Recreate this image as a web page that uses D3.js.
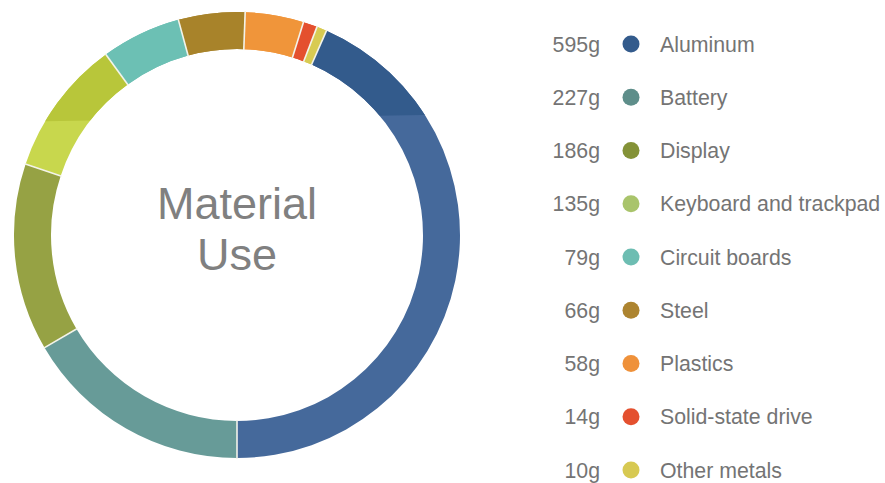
<!DOCTYPE html>
<html><head><meta charset="utf-8">
<script src="https://cdn.jsdelivr.net/npm/d3@7/dist/d3.min.js"></script>
<style>body{margin:0;background:#fff}svg{display:block}</style>
</head><body>
<script>
const categories = ["Aluminum","Battery","Display","Keyboard and trackpad","Circuit boards","Steel","Plastics","Solid-state drive","Other metals"];
const values = [595,227,186,135,79,66,58,14,10];
const valueLabels = ["595g","227g","186g","135g","79g","66g","58g","14g","10g"];
const legendColors = ["#335b8c","#5e8e8a","#849237","#a9c46b","#6dbdb2","#ad8430","#ef913a","#e4502f","#d7c952"];
const ringColorsLower = ["#45699b","#679b98","#96a244","#c8d74d","#6cc0b4","#a8832a","#f0953a","#e4502e","#d8cb52"];
const ringColorsUpper = ["#335b8c","#679b98","#96a244","#b8c63a","#6cc0b4","#a8832a","#f0953a","#e4502e","#d8cb52"];
const title = ["Material","Use"];

const W=885,H=483;
const svg=d3.select("body").append("svg").attr("width",W).attr("height",H);
const cx=237, cy=235, rO=223, rI=186;
const total=d3.sum(values);
const startAngle = Math.PI - values[0]/total*2*Math.PI;
const pie=d3.pie().sort(null).value(d=>d).startAngle(startAngle).endAngle(startAngle+2*Math.PI);
const arcs=pie(values);
const arc=d3.arc().innerRadius(rI).outerRadius(rO);

const defs=svg.append("defs");
defs.append("clipPath").attr("id","upper").append("polygon")
  .attr("points",`0,0 ${W},0 ${W},114 485,114 0,122`);

const g=svg.append("g").attr("transform",`translate(${cx},${cy})`);
g.selectAll("path.lower").data(arcs).join("path").attr("class","lower")
  .attr("d",arc).attr("fill",(d,i)=>ringColorsLower[i]);
const gu=svg.append("g").attr("clip-path","url(#upper)")
  .append("g").attr("transform",`translate(${cx},${cy})`);
gu.selectAll("path").data(arcs).join("path")
  .attr("d",arc).attr("fill",(d,i)=>ringColorsUpper[i]);
// separators
const sep=svg.append("g").attr("transform",`translate(${cx},${cy})`);
sep.selectAll("line").data(arcs).join("line")
  .attr("x1",d=>(rI-1)*Math.sin(d.startAngle)).attr("y1",d=>-(rI-1)*Math.cos(d.startAngle))
  .attr("x2",d=>(rO+1)*Math.sin(d.startAngle)).attr("y2",d=>-(rO+1)*Math.cos(d.startAngle))
  .attr("stroke","#f3f3ea").attr("stroke-width",1.6);

svg.append("g").selectAll("text").data(title).join("text")
  .attr("x",cx).attr("y",(d,i)=>219+i*51).attr("text-anchor","middle")
  .attr("font-family","Liberation Sans, Arial, sans-serif").attr("font-size",45)
  .attr("fill","#808080").text(d=>d);

const y=d3.scalePoint().domain(categories).range([44,470]);
const lg=svg.append("g").attr("font-family","Liberation Sans, Arial, sans-serif").attr("font-size",21.3).attr("fill","#747474");
lg.selectAll("text.v").data(categories).join("text").attr("class","v")
  .attr("x",600).attr("y",d=>y(d)+7.5).attr("text-anchor","end").text((d,i)=>valueLabels[i]);
lg.selectAll("circle").data(categories).join("circle")
  .attr("cx",631).attr("cy",d=>y(d)).attr("r",8.5).attr("fill",(d,i)=>legendColors[i]);
lg.selectAll("text.l").data(categories).join("text").attr("class","l")
  .attr("x",660).attr("y",d=>y(d)+7.5).text(d=>d);
</script>
</body></html>
